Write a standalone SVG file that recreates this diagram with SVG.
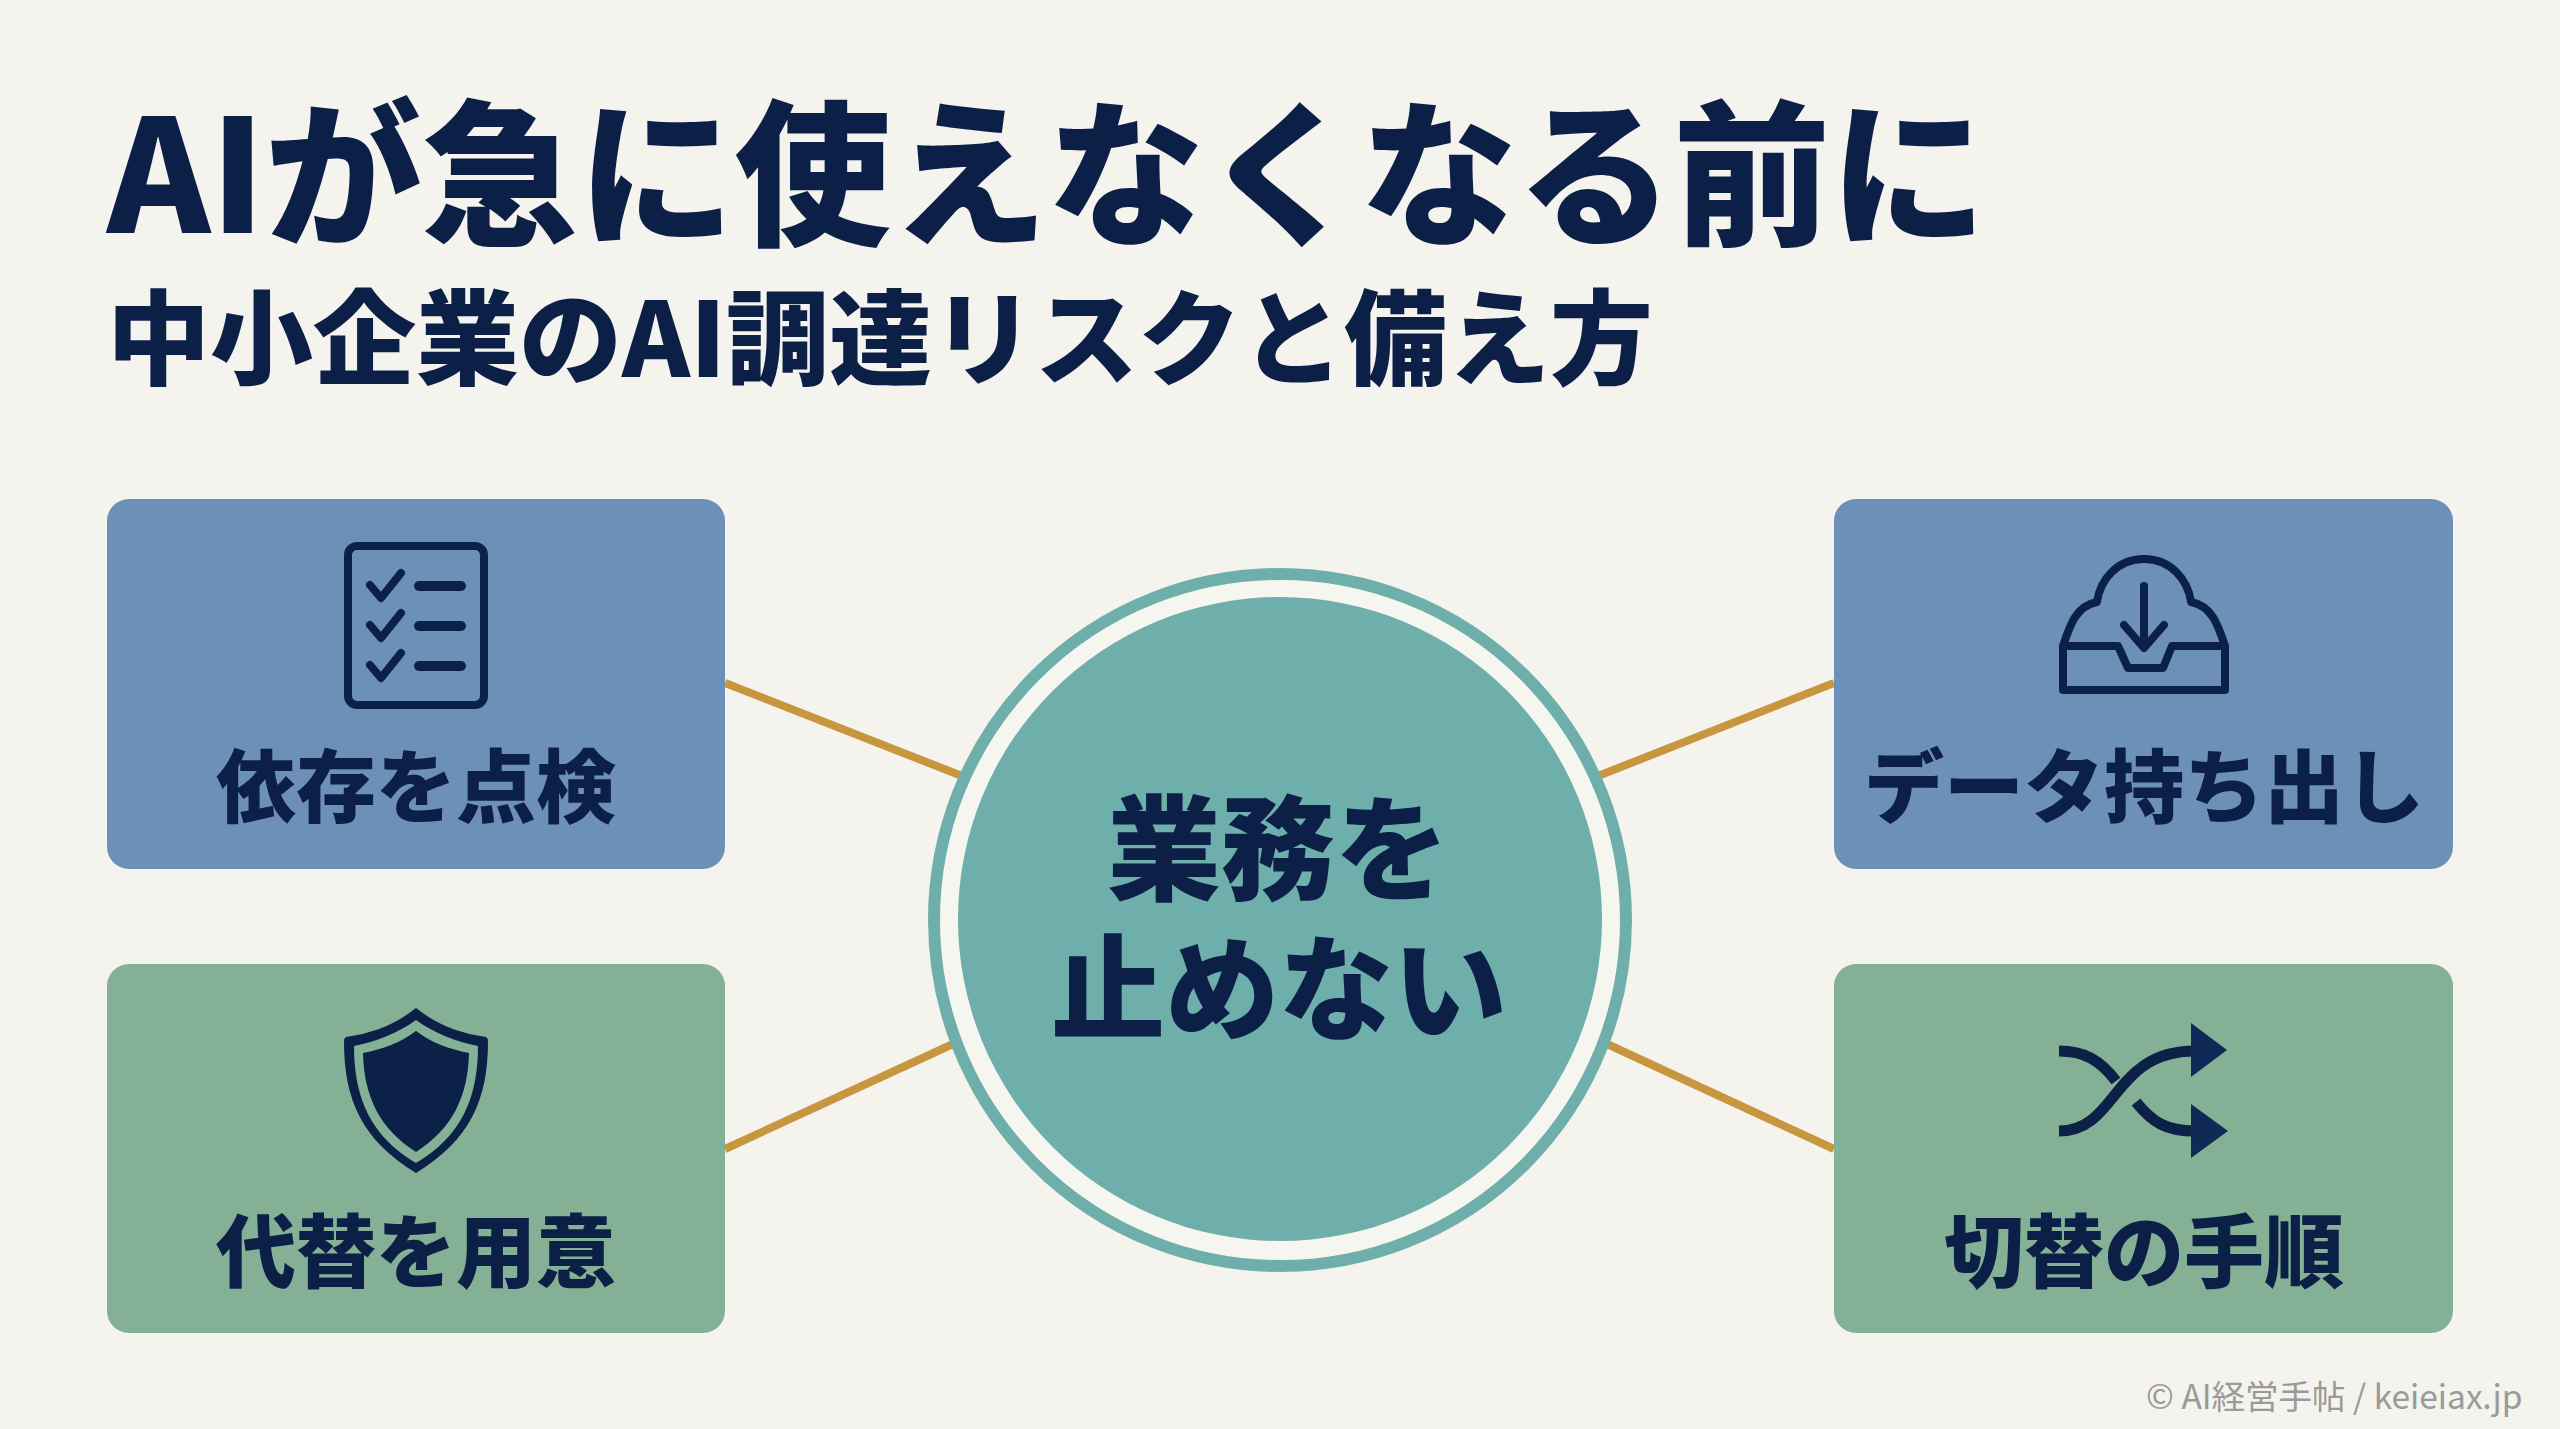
<svg xmlns="http://www.w3.org/2000/svg" width="2560" height="1429" viewBox="0 0 2560 1429">
<style>
text{font-family:"Noto Sans CJK JP","Noto Sans",sans-serif;font-weight:900;fill:#0c1f47}
.label{font-size:80px;text-anchor:middle}
.center{font-size:114px;text-anchor:middle}
.blue{fill:#6d90b8}
.green{fill:#84b095}
.conn{stroke:#c8963e;stroke-width:8;fill:none}
.ln{fill:none;stroke:#0b2148;stroke-linecap:round;stroke-linejoin:round}
</style>
<rect width="2560" height="1429" fill="#f4f3ee"/>
<g id="title">
<text x="107" y="233" font-size="156.5">AIが急に使えなくなる前に</text>
<text x="107" y="377" font-size="103">中小企業のAI調達リスクと備え方</text>
</g>
<g id="connectors">
<line class="conn" x1="725" y1="683" x2="962" y2="776"/>
<line class="conn" x1="1834" y1="683" x2="1598" y2="776"/>
<line class="conn" x1="725" y1="1149" x2="953" y2="1044"/>
<line class="conn" x1="1834" y1="1149" x2="1607" y2="1044"/>
</g>
<g id="node-check">
<rect class="blue" x="107" y="499" width="618" height="370" rx="22"/>
<rect class="ln" x="348" y="546" width="136" height="159" rx="9" stroke-width="8"/>
<g class="ln" stroke-width="8">
<path d="M370 585L381 598L401 573"/><path d="M370 625L381 638L401 613"/><path d="M370 665L381 678L401 653"/>
</g>
<g class="ln" stroke-width="10">
<path d="M419 586H461"/><path d="M419 626H461"/><path d="M419 666H461"/>
</g>
<text class="label" x="416" y="816">依存を点検</text>
</g>
<g id="node-data">
<rect class="blue" x="1834" y="499" width="619" height="370" rx="22"/>
<path class="ln" stroke-width="8" d="M2063 646H2118L2128 668H2163L2172 646H2225V690H2063ZM2063 646C2070 625 2076 606 2097 602C2100 580 2117 559 2144 559C2171 559 2188 580 2191 602C2212 606 2218 625 2225 646"/>
<path class="ln" stroke-width="8" d="M2144 586V646M2124 625L2144 648L2164 625"/>
<text class="label" x="2144" y="816">データ持ち出し</text>
</g>
<g id="node-alt">
<rect class="green" x="107" y="964" width="618" height="369" rx="22"/>
<path fill="#0b2148" fill-rule="evenodd" d="M416 1008C396 1024 374 1033 346 1037Q344 1038 344 1041C344 1100 362 1140 416 1173C470 1140 488 1100 488 1041Q488 1038 486 1037C458 1033 436 1024 416 1008ZM416 1020C398 1033 378 1041 354 1046C354 1100 372 1137 416 1163C460 1137 478 1100 478 1046C454 1041 434 1033 416 1020Z"/>
<path fill="#0b2148" d="M416 1031C400 1043 383 1049 363 1053C364 1097 380 1129 416 1152C452 1129 468 1097 469 1053C449 1049 432 1043 416 1031Z"/>
<text class="label" x="416" y="1281">代替を用意</text>
</g>
<g id="node-switch">
<rect class="green" x="1834" y="964" width="619" height="369" rx="22"/>
<g fill="none" stroke="#0b2148" stroke-width="11">
<path d="M2059 1051C2084 1051 2100 1060 2116 1081"/>
<path d="M2059 1131C2118 1131 2112 1051 2195 1051"/>
<path d="M2136 1102C2152 1122 2166 1131 2195 1131"/>
</g>
<path fill="#0f2a56" d="M2191 1023L2227 1050L2191 1077ZM2191 1104L2228 1131L2191 1158Z"/>
<text class="label" x="2144" y="1281">切替の手順</text>
</g>
<g id="node-center">
<circle cx="1280" cy="920" r="346" fill="#f6f6f1" stroke="#6fafab" stroke-width="12"/>
<circle cx="1280" cy="919" r="322" fill="#6fafab"/>
<text class="center" x="1278" y="891">業務を</text>
<text class="center" x="1279" y="1031">止めない</text>
</g>
<text id="footer" x="2146" y="1409" font-size="33.5" style="font-weight:400;fill:#9a9a96">© AI経営手帖 / keieiax.jp</text>
</svg>
